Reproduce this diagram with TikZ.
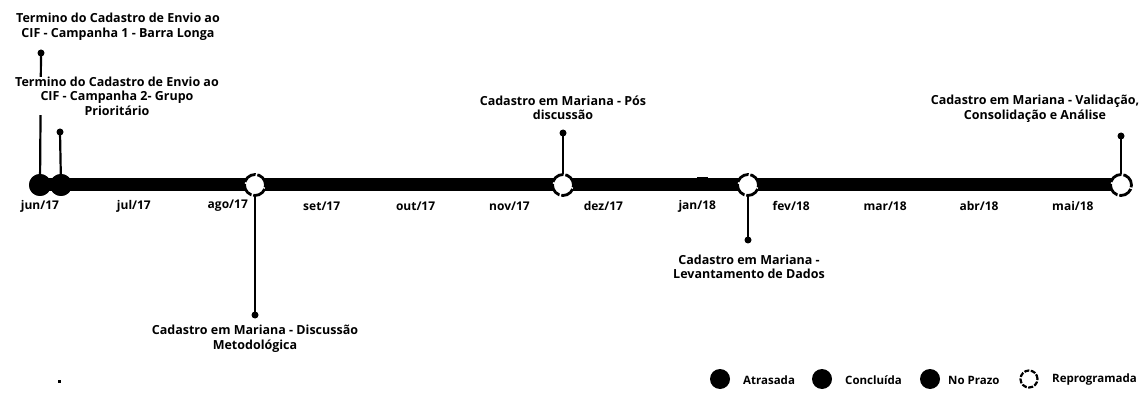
\documentclass[tikz,border=0pt]{standalone}
\usepackage{fontspec}
\setmainfont{Open Sans}
\begin{document}
\begin{tikzpicture}[x=1pt,y=-1pt,
  lbl/.style={font=\fontsize{12.5}{14.5}\selectfont\bfseries, align=center, inner sep=0pt},
  monthlbl/.style={font=\fontsize{12}{14}\selectfont\bfseries, inner sep=0pt},
  legtxt/.style={font=\fontsize{11.5}{13}\selectfont\bfseries, inner sep=0pt, anchor=west},
  donec/.style={circle, fill=black, minimum size=22pt, inner sep=0pt},
  resched/.style={circle, draw=black, line width=2.8pt, fill=white, dash pattern=on 14pt off 1.8pt, minimum size=21pt, inner sep=0pt},
  legdone/.style={circle, fill=black, minimum size=20pt, inner sep=0pt},
  legres/.style={circle, draw=black, line width=2.2pt, fill=white, dash pattern=on 5pt off 1.5pt, minimum size=17pt, inner sep=0pt},
  pin/.style={line width=2.2pt},
  pindot/.style={circle, fill=black, minimum size=7pt, inner sep=0pt},
  bar/.style={line width=13pt},
]
\useasboundingbox (0,0) rectangle (1145,395);

% bar ends
\coordinate (bs) at (40,185);
\coordinate (be) at (1120,185);
\draw[bar] (bs) -- (be);
% small bump on bar
\fill (697,177) rectangle (708,181);

% milestone circles
\node[donec] (c1) at (40,185) {};
\node[donec] (c2) at (61,185) {};
\node[resched] (c3) at (255,185) {};
\node[resched] (c4) at (563,185) {};
\node[resched] (c5) at (748,185) {};
\node[resched] (c6) at (1121,185) {};

% pin dots
\node[pindot] (d1) at (41,53) {};
\node[pindot] (d2) at (60,132) {};
\node[pindot] (d3) at (255,315) {};
\node[pindot] (d4) at (563,133) {};
\node[pindot] (d5) at (748,240) {};
\node[pindot] (d6) at (1121,136) {};

% pins
\draw[pin] (d1.center) -- (c1.center);
\draw[pin] (d2.center) -- (c2.center);
\draw[pin] (c3.south) -- (d3.center);
\draw[pin] (d4.center) -- (c4.north);
\draw[pin] (c5.south) -- (d5.center);
\draw[pin] (d6.center) -- (c6.north);

% redraw circles on top of pins
\node[donec] at (c1) {};
\node[donec] at (c2) {};

% labels
\node[lbl] (l1) at (118,27) {Termino do Cadastro de Envio ao\\CIF - Campanha 1 - Barra Longa};
\node[lbl, fill=white] (l2) at (117,96) {Termino do Cadastro de Envio ao\\CIF - Campanha 2- Grupo\\Prioritário};
\node[lbl] (l3) at (255,339) {Cadastro em Mariana - Discussão\\Metodológica};
\node[lbl] (l4) at (563,108) {Cadastro em Mariana - Pós\\discussão};
\node[lbl] (l5) at (749,267) {Cadastro em Mariana -\\Levantamento de Dados};
\node[lbl] (l6) at (1035,109) {Cadastro em Mariana - Validação,\\Consolidação e Análise};

% months
\foreach \m [count=\k from 0] in {jun/17,jul/17,ago/17,set/17,out/17,nov/17,dez/17,jan/18,fev/18,mar/18,abr/18,mai/18}{
  \node[monthlbl] (m\k) at ({40+93.9*\k},206) {\m};
}

% legend
\node[legdone] (g1) at (720,379) {};
\node[legtxt] (t1) at (743,380) {Atrasada};
\node[legdone] (g2) at (822,379) {};
\node[legtxt] (t2) at (845,380) {Concluída};
\node[legdone] (g3) at (930,379) {};
\node[legtxt] (t3) at (948,380) {No Prazo};
\node[legres] (g4) at (1029,379) {};
\node[legtxt] (t4) at (1052,380) {Reprogramada};

% stray dot
\fill (58,380) rectangle (61,383);
\end{tikzpicture}
\end{document}
